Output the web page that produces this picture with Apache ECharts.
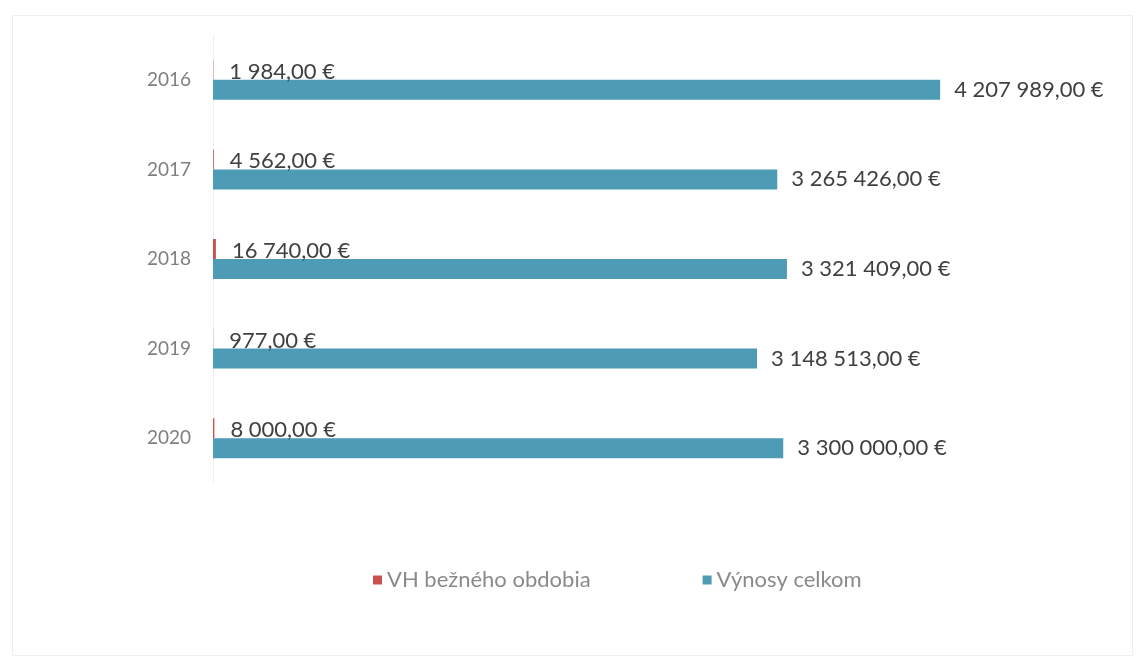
<!DOCTYPE html>
<html>
<head>
<meta charset="utf-8">
<script src="https://cdn.jsdelivr.net/npm/echarts@6/dist/echarts.min.js"></script>
<style>html,body{margin:0;padding:0;background:#fff}#c{width:1136px;height:659px}</style>
</head>
<body>
<div id="c"></div>
<script>
var categories = ['2016', '2017', '2018', '2019', '2020'];
var seriesNames = ['VH bežného obdobia', 'Výnosy celkom'];
var vhValues = [1984, 4562, 16740, 977, 8000];
var vynosyValues = [4207989, 3265426, 3321409, 3148513, 3300000];

function fmt(v) {
  var parts = v.toFixed(2).split('.');
  var intPart = parts[0].replace(/\B(?=(\d{3})+(?!\d))/g, '\u00a0');
  return intPart + ',' + parts[1] + '\u00a0€';
}

var chart = echarts.init(document.getElementById('c'));
chart.setOption({
  backgroundColor: '#ffffff',
  animation: false,
  textStyle: { fontFamily: 'Lato' },
  graphic: [{
    type: 'rect', left: 10, top: 13,
    shape: { width: 1120, height: 640 },
    style: { fill: 'none', stroke: '#eeeeee', lineWidth: 1 },
    silent: true, z: -1
  }],
  legend: {
    top: 564, left: 368, itemGap: 112,
    itemWidth: 9, itemHeight: 9, icon: 'rect',
    textStyle: { color: '#8a8a8a', fontSize: 22, fontFamily: 'Lato' },
    data: seriesNames
  },
  grid: { left: 213, top: 35, width: 864, height: 448, containLabel: false },
  xAxis: {
    type: 'value', min: 0, max: 5000000,
    axisLine: { show: false }, axisTick: { show: false },
    axisLabel: { show: false }, splitLine: { show: false }
  },
  yAxis: {
    type: 'category', inverse: true, data: categories,
    axisLine: { show: true, lineStyle: { color: '#f0f0f0', width: 1 } },
    axisTick: { show: false },
    axisLabel: { color: '#7f7f7f', fontSize: 19, margin: 22, fontFamily: 'Lato' }
  },
  series: [{
    name: seriesNames[0], type: 'bar', data: vhValues,
    barWidth: 20, barGap: '0%',
    itemStyle: { color: '#c9504f' },
    label: { show: true, position: 'right', distance: 16, color: '#404040', fontSize: 22,
      offset: [0, 2],
      fontFamily: 'Lato', formatter: function (p) { return fmt(p.value); } }
  }, {
    name: seriesNames[1], type: 'bar', data: vynosyValues,
    barWidth: 20,
    itemStyle: { color: '#4e9bb6' },
    label: { show: true, position: 'right', distance: 14, color: '#404040', fontSize: 22,
      fontFamily: 'Lato', formatter: function (p) { return fmt(p.value); } }
  }]
});
</script>
</body>
</html>
